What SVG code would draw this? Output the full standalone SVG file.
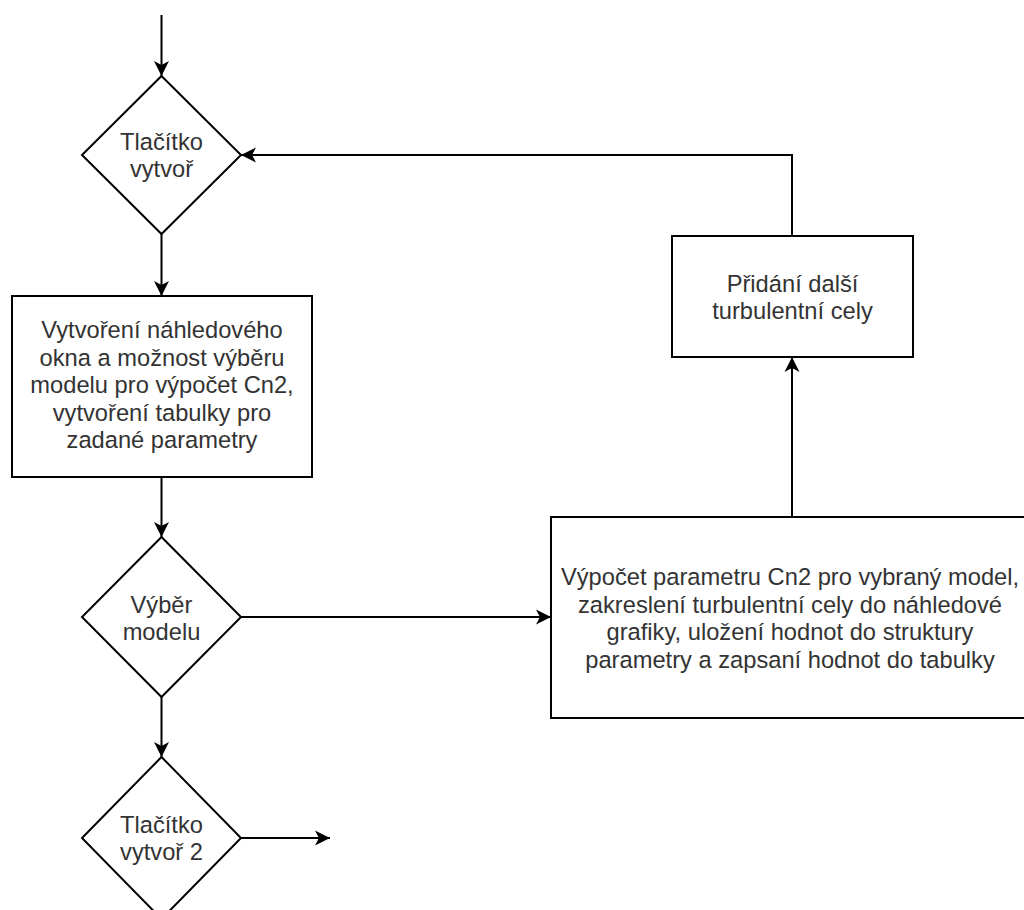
<svg xmlns="http://www.w3.org/2000/svg" width="1024" height="910" viewBox="0 0 1024 910">
<style>
.shape{fill:#fff;stroke:#000;stroke-width:2}
.lbl{font-family:"Liberation Sans",Arial,sans-serif;font-size:23.7px;fill:#333;text-anchor:middle}
.edge{fill:none;stroke:#000;stroke-width:2}
</style>
<defs>
<marker id="arr" markerUnits="userSpaceOnUse" markerWidth="16" markerHeight="16" refX="15" refY="8" orient="auto">
<path d="M0,0.5 L15,8 L0,15.5 L4,8 Z" fill="#000"/>
</marker>
</defs>
<rect width="1024" height="910" fill="#fff"/>
<g id="connectors">
<path class="edge" d="M161.5,15 L161.5,76" marker-end="url(#arr)"/>
<path class="edge" d="M161.5,234 L161.5,296" marker-end="url(#arr)"/>
<path class="edge" d="M161.5,477 L161.5,537" marker-end="url(#arr)"/>
<path class="edge" d="M241,617 L551,617" marker-end="url(#arr)"/>
<path class="edge" d="M161.5,697 L161.5,757" marker-end="url(#arr)"/>
<path class="edge" d="M241,838 L330,838" marker-end="url(#arr)"/>
<path class="edge" d="M792,517 L792,357" marker-end="url(#arr)"/>
<path class="edge" d="M792,236 L792,155 L241,155" marker-end="url(#arr)"/>
</g>
<g id="n1">
<polygon class="shape" points="161.5,76 241,155 161.5,234 82,155"/>
<text class="lbl" x="161.5" y="150">Tlačítko</text>
<text class="lbl" x="161.5" y="177">vytvoř</text>
</g>
<g id="n2">
<rect class="shape" x="12" y="296" width="300" height="181"/>
<text class="lbl" x="162" y="338">Vytvoření náhledového</text>
<text class="lbl" x="162" y="365.5">okna a možnost výběru</text>
<text class="lbl" x="162" y="393">modelu pro výpočet Cn2,</text>
<text class="lbl" x="162" y="420.5">vytvoření tabulky pro</text>
<text class="lbl" x="162" y="448">zadané parametry</text>
</g>
<g id="n3">
<polygon class="shape" points="161.5,537 241,617 161.5,697 82,617"/>
<text class="lbl" x="161.5" y="613">Výběr</text>
<text class="lbl" x="161.5" y="640">modelu</text>
</g>
<g id="n4">
<polygon class="shape" points="161.5,757 241,838 161.5,919 82,838"/>
<text class="lbl" x="161.5" y="833">Tlačítko</text>
<text class="lbl" x="161.5" y="860">vytvoř 2</text>
</g>
<g id="n5">
<rect class="shape" x="551" y="517" width="482" height="201"/>
<text class="lbl" x="790" y="585">Výpočet parametru Cn2 pro vybraný model,</text>
<text class="lbl" x="790" y="613">zakreslení turbulentní cely do náhledové</text>
<text class="lbl" x="790" y="640">grafiky, uložení hodnot do struktury</text>
<text class="lbl" x="790" y="668">parametry a zapsaní hodnot do tabulky</text>
</g>
<g id="n6">
<rect class="shape" x="672" y="236" width="241" height="121"/>
<text class="lbl" x="792.5" y="292">Přidání další</text>
<text class="lbl" x="792.5" y="319">turbulentní cely</text>
</g>
</svg>
